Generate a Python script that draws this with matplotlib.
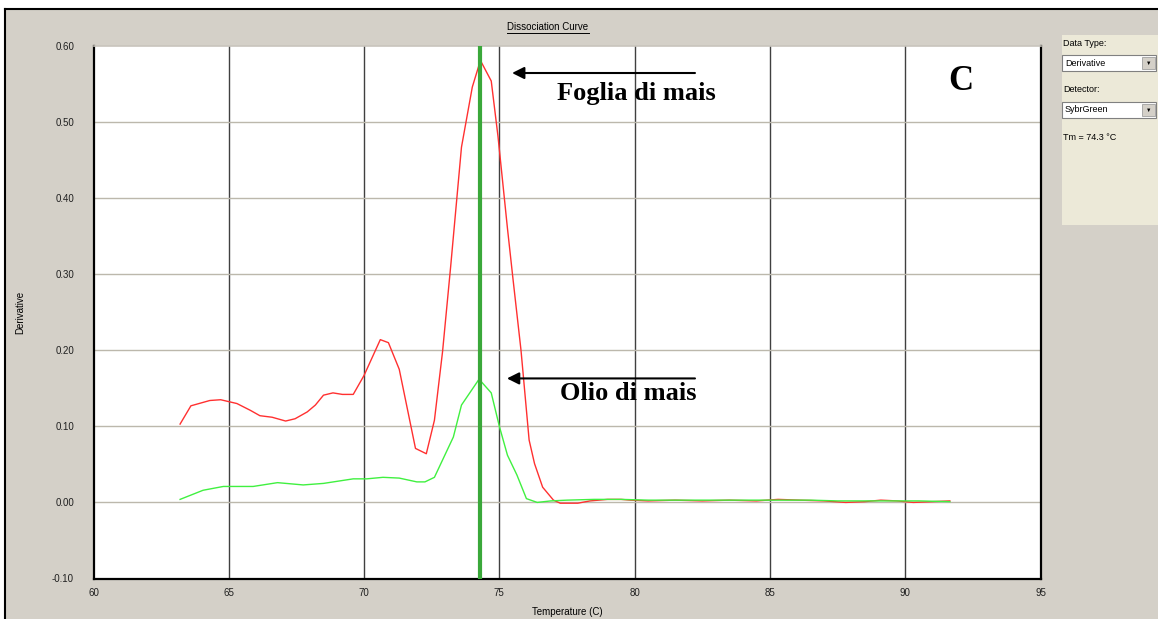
import numpy as np
import matplotlib.pyplot as plt
from matplotlib.patches import Rectangle
from matplotlib.lines import Line2D

# melt curve, derivative signal per sample
temp_leaf = [63.2, 63.6, 64.3, 64.7, 65.3, 65.8, 66.15, 66.6, 67.1, 67.45, 67.9, 68.2,
             68.5, 68.85, 69.2, 69.6, 70.0, 70.6, 70.9, 71.3, 71.9, 72.3, 72.6, 72.9,
             73.2, 73.6, 74.0, 74.3, 74.7, 74.95, 75.3, 75.5, 75.8, 76.1, 76.3, 76.6,
             77.0, 77.25, 77.9, 78.35, 79.0, 79.5, 79.85, 80.5, 81.5, 82.5, 83.5, 84.5,
             85.3, 86.1, 87.0, 87.8, 88.5, 89.1, 89.7, 90.3, 91.0, 91.65]
deriv_leaf = [0.103, 0.127, 0.134, 0.135, 0.130, 0.121, 0.114, 0.112, 0.107, 0.110, 0.119, 0.128,
              0.141, 0.144, 0.142, 0.142, 0.167, 0.214, 0.210, 0.175, 0.071, 0.064, 0.108, 0.198,
              0.310, 0.467, 0.546, 0.581, 0.554, 0.481, 0.360, 0.295, 0.200, 0.082, 0.051, 0.020,
              0.003, -0.001, -0.001, 0.002, 0.004, 0.004, 0.003, 0.002, 0.003, 0.002, 0.003, 0.002,
              0.004, 0.003, 0.002, 0.000, 0.001, 0.003, 0.002, 0.000, 0.001, 0.002]

temp_oil = [63.2, 64.05, 64.8, 65.3, 65.9, 66.8, 67.75, 68.5, 69.6, 70.1, 70.7, 71.3,
            71.95, 72.25, 72.6, 73.3, 73.6, 74.25, 74.7, 75.0, 75.3, 75.65, 76.0, 76.4,
            76.9, 77.5, 78.5, 79.5, 80.5, 81.5, 82.5, 83.5, 84.5, 85.5, 86.5, 87.5,
            88.5, 89.5, 90.5, 91.65]
deriv_oil = [0.004, 0.016, 0.021, 0.021, 0.021, 0.026, 0.023, 0.025, 0.031, 0.031, 0.033, 0.032,
             0.027, 0.027, 0.033, 0.086, 0.128, 0.162, 0.144, 0.100, 0.062, 0.036, 0.005, 0.000,
             0.002, 0.003, 0.004, 0.004, 0.003, 0.003, 0.003, 0.003, 0.003, 0.003, 0.003, 0.002,
             0.002, 0.002, 0.002, 0.001]

tm = 74.3
x_ticks = [60, 65, 70, 75, 80, 85, 90, 95]
y_ticks = [-0.10, 0.00, 0.10, 0.20, 0.30, 0.40, 0.50, 0.60]

bg = '#d4d0c8'
W, H = 1158, 619
fig = plt.figure(figsize=(W / 100, H / 100), dpi=100, facecolor='white')
plt.rcParams['font.family'] = ['Liberation Sans', 'DejaVu Sans']

def fx(px):
    return px / W

def fy(py):
    return 1 - py / H

# window background and frame
fig.patches.append(Rectangle((fx(5), 0), 1 - fx(5), fy(9), transform=fig.transFigure,
                             facecolor=bg, edgecolor='none', zorder=-5))
fig.add_artist(Line2D([fx(5), fx(5)], [0, fy(9)], color='black', lw=1.5))
fig.add_artist(Line2D([fx(5), 1], [fy(9), fy(9)], color='black', lw=1.5))

ax = fig.add_axes([fx(93.5), fy(578.5), fx(1040.5) - fx(93.5), fy(46) - fy(578.5)])
ax.set_zorder(5)
ax.set_facecolor('white')
ax.set_xlim(60, 95)
ax.set_ylim(-0.10, 0.60)
ax.set_xticks(x_ticks)
ax.set_yticks(y_ticks)
ax.set_xticklabels([str(t) for t in x_ticks], fontsize=7, color='#202020')
ax.set_yticklabels(['%.2f' % t for t in y_ticks], fontsize=7, color='#202020')
ax.tick_params(length=0)
ax.tick_params(axis='x', pad=7)
ax.tick_params(axis='y', pad=14)

for t in x_ticks[1:-1]:
    ax.axvline(t, color='#404040', lw=1.0, zorder=1)
for t in y_ticks[1:-1]:
    ax.axhline(t, color='#bcb8ac', lw=1.0, zorder=1)

for side in ['left', 'bottom', 'right']:
    ax.spines[side].set_color('black')
    ax.spines[side].set_linewidth(1.6)
ax.spines['top'].set_color('#c8c4bc')
ax.spines['top'].set_linewidth(1.2)

ax.plot(temp_leaf, deriv_leaf, color='#ff3030', lw=1.0, zorder=3)
ax.plot(temp_oil, deriv_oil, color='#40f040', lw=1.0, zorder=3)
ax.axvline(tm, color='#3aa83a', lw=3, zorder=4)

ax.set_xlabel('Temperature (C)', fontsize=7, labelpad=6)
ax.set_ylabel('Derivative', fontsize=7, labelpad=19)

# annotations
arrow = dict(arrowstyle='-|>', color='black', lw=1.5, mutation_scale=18, shrinkA=0, shrinkB=0)
ax.annotate('', xy=(75.47, 0.5645), xytext=(82.23, 0.5645), arrowprops=arrow)
ax.text(80.05, 0.537, 'Foglia di mais', fontsize=19, fontweight='bold',
        family='Liberation Serif', ha='center', va='center')
ax.annotate('', xy=(75.28, 0.163), xytext=(82.23, 0.163), arrowprops=arrow)
ax.text(79.75, 0.143, 'Olio di mais', fontsize=19, fontweight='bold',
        family='Liberation Serif', ha='center', va='center')
ax.text(92.05, 0.553, 'C', fontsize=25, fontweight='bold',
        family='Liberation Serif', ha='center', va='center')

# title with underline
title = fig.text(fx(548), fy(27), 'Dissociation Curve', fontsize=7, ha='center', va='center')
fig.canvas.draw()
bb = title.get_window_extent().transformed(fig.transFigure.inverted())
fig.add_artist(Line2D([bb.x0, bb.x1], [bb.y0 - 0.001, bb.y0 - 0.001], color='black', lw=0.7))

# side panel
fig.patches.append(Rectangle((fx(1062), fy(225)), 1 - fx(1062), fy(35) - fy(225),
                             transform=fig.transFigure, facecolor='#ece9d8',
                             edgecolor='none', zorder=1))
fig.text(fx(1063), fy(43), 'Data Type:', fontsize=6.5, va='center')
fig.text(fx(1063), fy(90), 'Detector:', fontsize=6.5, va='center')
fig.text(fx(1063), fy(138), 'Tm = 74.3 \u00b0C', fontsize=6.5, va='center')
for y0, label in [(55, 'Derivative'), (102, 'SybrGreen')]:
    fig.patches.append(Rectangle((fx(1062), fy(y0 + 16)), fx(1156) - fx(1062), fy(y0) - fy(y0 + 16),
                                 transform=fig.transFigure, facecolor='white',
                                 edgecolor='#808080', lw=0.8, zorder=2))
    fig.patches.append(Rectangle((fx(1142), fy(y0 + 14)), fx(1155) - fx(1142), fy(y0 + 2) - fy(y0 + 14),
                                 transform=fig.transFigure, facecolor=bg,
                                 edgecolor='#a0a0a0', lw=0.6, zorder=3))
    fig.text(fx(1065), fy(y0 + 8), label, fontsize=6.5, va='center', zorder=4)
    fig.text(fx(1148.5), fy(y0 + 8.5), '\u25bc', fontsize=4, ha='center', va='center', zorder=4)

fig.savefig('out.png', dpi=100, facecolor='white')
